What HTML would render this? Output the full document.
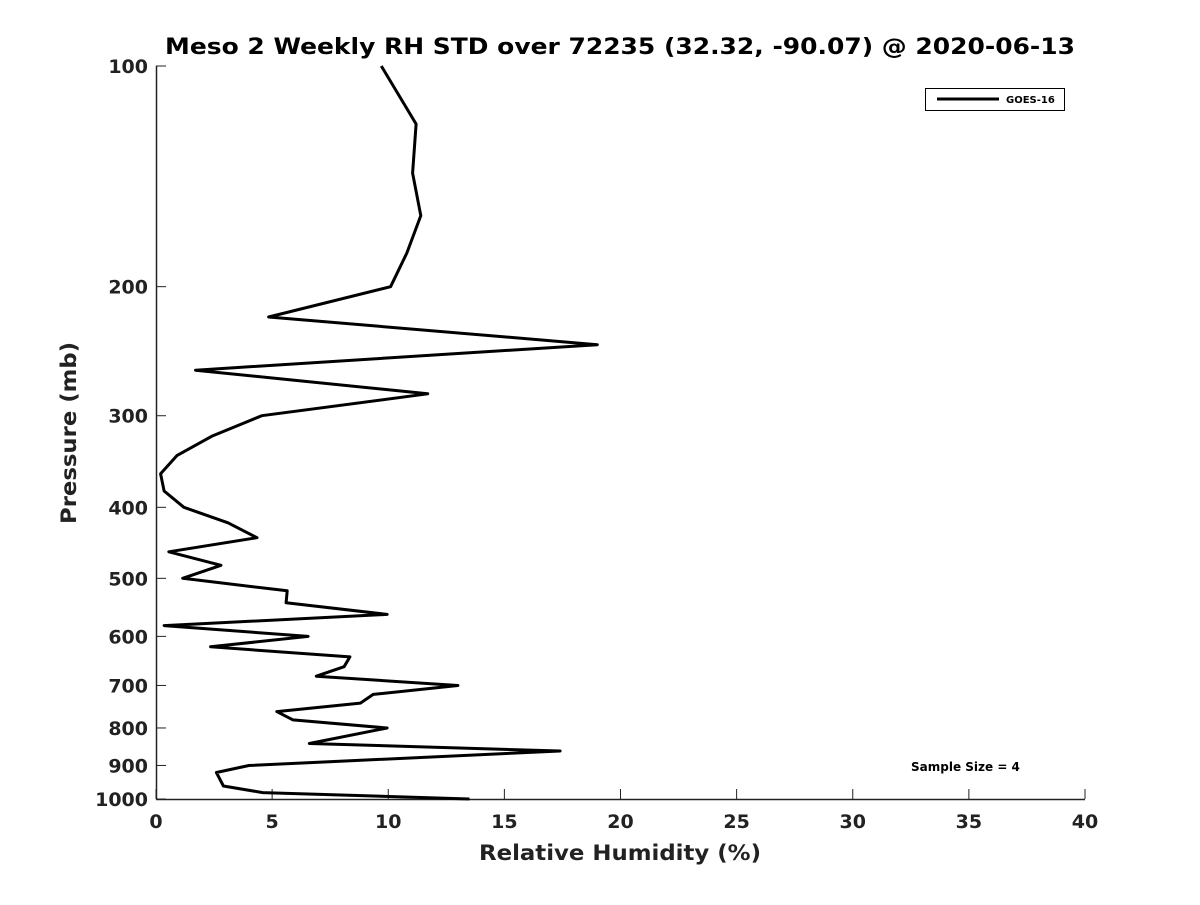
<!DOCTYPE html>
<html><head><meta charset="utf-8"><style>
body{margin:0;background:#fff;}
svg text{font-family:"DejaVu Sans","Liberation Sans",sans-serif;font-weight:bold;fill:#222;}
</style></head><body>
<svg id="chart" width="1200" height="900" viewBox="0 0 1200 900" xmlns="http://www.w3.org/2000/svg">
<rect width="1200" height="900" fill="#fff"/>
<text x="620" y="54" text-anchor="middle" font-size="22" textLength="910" lengthAdjust="spacingAndGlyphs" style="fill:#000">Meso 2 Weekly RH STD over 72235 (32.32, -90.07) @ 2020-06-13</text>
<g id="axes"></g>
<polyline id="series" fill="none" stroke="#000" stroke-width="3" stroke-linejoin="round"/>
<g>
<rect x="925.5" y="88.5" width="139" height="22" fill="#fff" stroke="#000" stroke-width="1"/>
<line x1="937" y1="99" x2="999" y2="99" stroke="#000" stroke-width="3"/>
<text x="1006" y="103" font-size="10" style="fill:#000">GOES-16</text>
</g>
<text x="911" y="771" font-size="12" style="fill:#000">Sample Size = 4</text>
<text x="620" y="860" text-anchor="middle" font-size="21" textLength="282" lengthAdjust="spacingAndGlyphs">Relative Humidity (%)</text>
<text transform="translate(76,433) rotate(-90)" text-anchor="middle" font-size="21" textLength="182" lengthAdjust="spacingAndGlyphs">Pressure (mb)</text>
</svg>
<script>
const pressures=[100,120,140,160,180,200,220,240,260,280,300,320,340,360,380,400,420,440,460,480,500,520,540,560,580,600,620,640,660,680,700,720,740,760,780,800,840,860,900,920,960,980,1000];
const rhStd=[9.7,11.2,11.05,11.4,10.8,10.1,4.85,19.0,1.7,11.7,4.55,2.4,0.9,0.2,0.35,1.2,3.1,4.35,0.55,2.8,1.15,5.65,5.6,9.95,0.35,6.55,2.35,8.35,8.1,6.9,13.0,9.35,8.8,5.2,5.9,9.95,6.6,17.4,4.0,2.6,2.9,4.6,13.5];
const xTicks=[0,5,10,15,20,25,30,35,40];
const yTicks=[100,200,300,400,500,600,700,800,900,1000];
const X0=156,X1=1085,Y0=66,Y1=799;
const xs=v=>X0+(v-0)/40*(X1-X0);
const ys=p=>Y0+(Math.log10(p)-2)*(Y1-Y0);
const NS="http://www.w3.org/2000/svg";
const ax=document.getElementById('axes');
function mk(t,a){const e=document.createElementNS(NS,t);for(const k in a)e.setAttribute(k,a[k]);ax.appendChild(e);return e;}
const xl=mk('line',{x1:X0,y1:Y1+0.5,x2:X1,y2:Y1+0.5,stroke:'#222','stroke-width':1.5});


const yl=mk('line',{x1:X0+0.5,y1:Y0,x2:X0+0.5,y2:Y1,stroke:'#222','stroke-width':1.5});


xTicks.forEach(v=>{const x=xs(v);
 mk('line',{x1:x,y1:Y1,x2:x,y2:Y1-10,stroke:'#222','stroke-width':1});
 const t=mk('text',{x:x,y:Y1+29,'text-anchor':'middle','font-size':19});t.textContent=v;
 
 });
yTicks.forEach(p=>{const y=ys(p);
 mk('line',{x1:X0,y1:y,x2:X0+10,y2:y,stroke:'#222','stroke-width':1});
 const t=mk('text',{x:X0-8,y:y+7,'text-anchor':'end','font-size':19});t.textContent=p;
 
 });
document.getElementById('series').setAttribute('points',pressures.map((p,i)=>xs(rhStd[i]).toFixed(1)+','+ys(p).toFixed(1)).join(' '));
</script>
</body></html>
